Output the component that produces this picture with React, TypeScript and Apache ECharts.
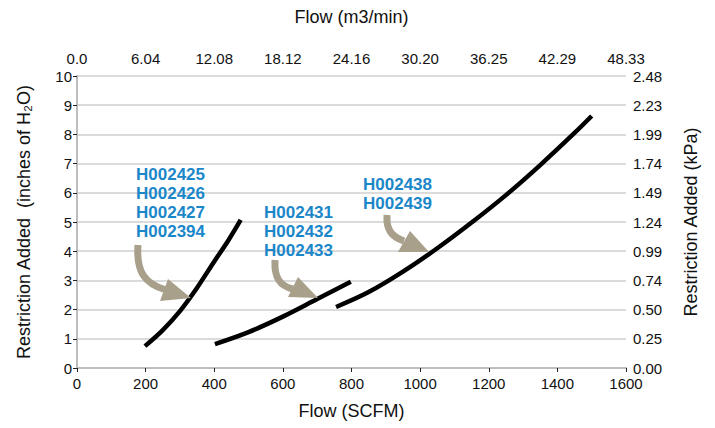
import React, { useEffect, useRef } from "react";
import * as echarts from "echarts";

const xTicks = [0, 200, 400, 600, 800, 1000, 1200, 1400, 1600];
const topTickLabels = ["0.0", "6.04", "12.08", "18.12", "24.16", "30.20", "36.25", "42.29", "48.33"];
const kpaTickLabels = ["0.00", "0.25", "0.50", "0.74", "0.99", "1.24", "1.49", "1.74", "1.99", "2.23", "2.48"];

const curveA: [number, number][] = [
  [198, 0.75], [250, 1.3], [300, 1.95], [350, 2.75], [400, 3.65], [440, 4.35], [477, 5.07],
];
const curveB: [number, number][] = [
  [402, 0.82], [500, 1.23], [600, 1.76], [700, 2.36], [798, 2.95],
];
const curveC: [number, number][] = [
  [755, 2.09], [850, 2.6], [950, 3.3], [1050, 4.1], [1150, 4.98], [1250, 5.92], [1350, 6.95], [1450, 8.05], [1500, 8.63],
];

const labelA = ["H002425", "H002426", "H002427", "H002394"];
const labelB = ["H002431", "H002432", "H002433"];
const labelC = ["H002438", "H002439"];

const FONT = "'Liberation Sans Narrow', 'Liberation Sans', Arial, sans-serif";
const ARROW = "#a9a08b";
const BLUE = "#1b87c9";

export default function App() {
  const ref = useRef<HTMLDivElement>(null);
  useEffect(() => {
    if (!ref.current) return;
    const chart = echarts.init(ref.current, undefined, { renderer: "svg" });
    const axisLine = { show: true, lineStyle: { color: "#bdbdbd", width: 2 } };
    const tickStyle = { color: "#222", width: 1 };
    const labelStyle = { color: "#111", fontSize: 15, fontFamily: FONT };
    const nameStyle = { color: "#111", fontSize: 18, fontFamily: FONT };

    const mkArrow = (shaft: number[], head: number[][]) => [
      {
        type: "bezierCurve",
        shape: { x1: shaft[0], y1: shaft[1], cpx1: shaft[2], cpy1: shaft[3], cpx2: shaft[4], cpy2: shaft[5], x2: shaft[6], y2: shaft[7] },
        style: { stroke: ARROW, lineWidth: 7, fill: null },
        z: 10,
      },
      { type: "polygon", shape: { points: head }, style: { fill: ARROW }, z: 10 },
    ];
    const mkLabel = (lines: string[], x: number, y: number) => ({
      type: "text",
      left: x,
      top: y,
      style: {
        text: lines.join("\n"),
        fill: BLUE,
        font: `bold 17px ${FONT}`,
        lineHeight: 19,
      },
      z: 10,
    });

    chart.setOption({
      animation: false,
      grid: { left: 77, right: 89, top: 76, bottom: 60 },
      xAxis: [
        {
          type: "value",
          position: "bottom",
          min: 0,
          max: 1600,
          interval: 200,
          name: "Flow (SCFM)",
          nameLocation: "middle",
          nameGap: 34,
          nameTextStyle: nameStyle,
          axisLine,
          axisTick: { show: true, length: 4, lineStyle: tickStyle },
          axisLabel: { ...labelStyle, margin: 8, formatter: (v: number) => String(xTicks[Math.round(v / 200)]) },
          splitLine: { show: false },
        },
        {
          type: "value",
          position: "top",
          min: 0,
          max: 1600,
          interval: 200,
          name: "Flow (m3/min)",
          nameLocation: "middle",
          nameGap: 50,
          nameTextStyle: nameStyle,
          axisLine,
          axisTick: { show: true, inside: true, length: 4, lineStyle: tickStyle },
          axisLabel: { ...labelStyle, margin: 10, formatter: (v: number) => topTickLabels[Math.round(v / 200)] },
          splitLine: { show: false },
        },
      ],
      yAxis: [
        {
          type: "value",
          position: "left",
          min: 0,
          max: 10,
          interval: 1,
          name: "Restriction Added  (inches of H\u2082O)",
          nameLocation: "middle",
          nameGap: 44,
          nameTextStyle: nameStyle,
          axisLine,
          axisTick: { show: true, length: 4, lineStyle: tickStyle },
          axisLabel: { ...labelStyle, margin: 5 },
          splitLine: { show: true, lineStyle: { color: "#cfcfcf", width: 1.5 } },
        },
        {
          type: "value",
          position: "right",
          min: 0,
          max: 10,
          interval: 1,
          name: "Restriction Added (kPa)",
          nameLocation: "middle",
          nameGap: 56,
          nameTextStyle: nameStyle,
          axisLine,
          axisTick: { show: false },
          axisLabel: { ...labelStyle, margin: 7, formatter: (v: number) => kpaTickLabels[Math.round(v)] },
          splitLine: { show: false },
        },
      ],
      series: [curveA, curveB, curveC].map((d) => ({
        type: "line",
        data: d,
        xAxisIndex: 0,
        yAxisIndex: 0,
        smooth: 0.35,
        symbol: "none",
        lineStyle: { color: "#000", width: 4.5, cap: "butt" },
      })),
      graphic: [
        mkLabel(labelA, 136, 165),
        mkLabel(labelB, 264, 203),
        mkLabel(labelC, 363, 175),
        ...mkArrow([138, 245, 136, 272, 145, 284, 166, 290], [[168, 279], [160, 301], [191, 298]]),
        ...mkArrow([275, 260, 274, 278, 280, 286, 293, 289], [[298, 277], [288, 297], [318, 298]]),
        ...mkArrow([387, 215, 386, 230, 392, 237, 404, 241], [[410, 231], [398, 252], [429, 252]]),
      ],
    });
    return () => chart.dispose();
  }, []);
  return <div ref={ref} style={{ position: "absolute", left: 0, top: 0, width: 715, height: 428 }} />;
}
